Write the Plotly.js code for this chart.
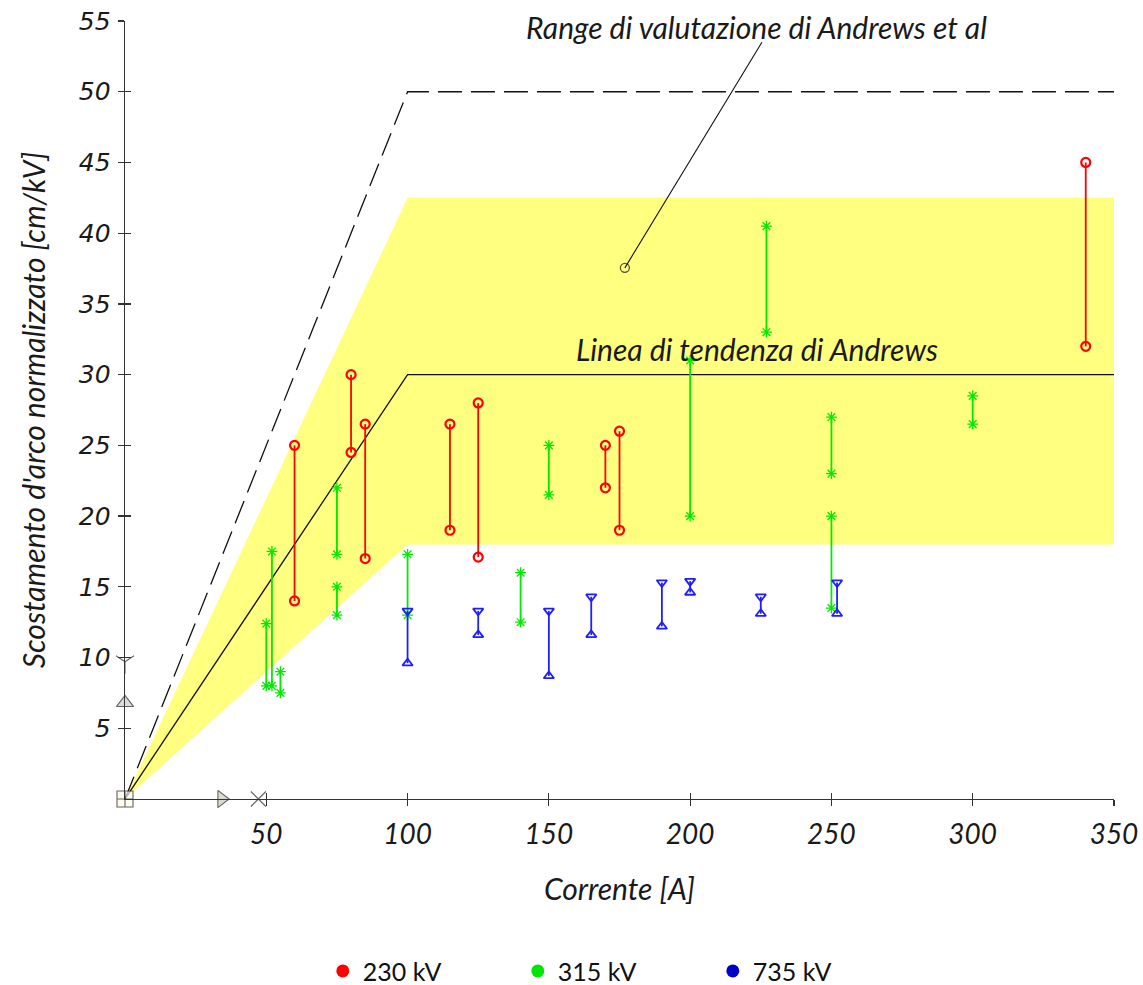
<!DOCTYPE html>
<html>
<head>
<meta charset="utf-8">
<script src="https://cdn.plot.ly/plotly-3.0.1.min.js"></script>
<style>
html,body{margin:0;padding:0;background:#fff;}
#chart{width:1143px;height:985px;}
</style>
</head>
<body>
<div id="chart"></div>
<script>
// ---- data ----
const red230X  = [60, 80, 85, 115, 125, 170, 175, 340];
const red230Lo = [14, 24.5, 17, 19, 17.1, 22, 19, 32];
const red230Hi = [25, 30, 26.5, 26.5, 28, 25, 26, 45];

const green315X  = [50, 52, 55, 75, 75, 100, 140, 150, 200, 227, 250, 250, 300];
const green315Lo = [8, 8, 7.5, 17.3, 13, 13, 12.5, 21.5, 20, 33, 23, 13.5, 26.5];
const green315Hi = [12.4, 17.5, 9, 22, 15, 17.3, 16, 25, 31, 40.5, 27, 20, 28.5];

const blue735X  = [100, 125, 150, 165, 190, 200, 225, 252];
const blue735Lo = [9.6, 11.6, 8.7, 11.6, 12.2, 14.6, 13.1, 13.1];
const blue735Hi = [13.3, 13.3, 13.3, 14.3, 15.3, 15.4, 14.3, 15.3];

// Andrews evaluation band (yellow) and curves
const bandX = [0, 100, 350, 350, 100, 0];
const bandY = [0, 42.5, 42.5, 18, 18, 0];
const upperX = [0, 100, 350];
const upperY = [0, 50, 50];
const trendX = [0, 100, 350];
const trendY = [0, 30, 30];

// leader line of the "Range" label
const leaderX = [176.9, 225.4];
const leaderY = [37.55, 53.5];

// tick labels
const xTickVals = [50, 100, 150, 200, 250, 300, 350];
const xTickText = ['50', '100', '150', '200', '250', '300', '350'];
const yTickVals = [5, 10, 15, 20, 25, 30, 35, 40, 45, 50, 55];
const yTickText = ['5', '10', '15', '20', '25', '30', '35', '40', '45', '50', '55'];

// axis decoration glyphs
const decoX = [0, 34.2, 47.2, 0, 0];
const decoY = [0, 0, 0, 6.8, 9.7];

const seriesNames = ['230 kV', '315 kV', '735 kV'];
const legendColors = ['rgb(255,0,0)', 'rgb(0,230,0)', 'rgb(0,0,200)'];

// ---- helpers ----
function segs(xs, lo, hi) {
  const X = [], Y = [];
  for (let i = 0; i < xs.length; i++) {
    X.push(xs[i], xs[i], null);
    Y.push(lo[i], hi[i], null);
  }
  return {X, Y};
}
function symbols(n, lowSym, highSym) {
  const s = [];
  for (let i = 0; i < n; i++) s.push(lowSym, highSym, lowSym);
  return s;
}

const italicLato = (size) => ({family: 'Lato, "Open Sans", sans-serif', style: 'italic', size: size, color: '#1a1a1a'});

const r = segs(red230X, red230Lo, red230Hi);
const g = segs(green315X, green315Lo, green315Hi);
const b = segs(blue735X, blue735Lo, blue735Hi);

const traces = [
  {x: bandX, y: bandY, type: 'scatter', mode: 'lines', fill: 'toself',
   fillcolor: 'rgb(255,255,128)', line: {width: 0, color: 'rgba(0,0,0,0)'},
   showlegend: false, hoverinfo: 'skip'},
  {x: upperX, y: upperY, type: 'scatter', mode: 'lines',
   line: {color: '#111', width: 1.3, dash: '24px,9px'}, showlegend: false},
  {x: trendX, y: trendY, type: 'scatter', mode: 'lines',
   line: {color: '#111', width: 1.3}, showlegend: false},
  {x: leaderX, y: leaderY, type: 'scatter', mode: 'lines+markers',
   line: {color: '#111', width: 1.1},
   marker: {symbol: ['circle-open', 'circle'], size: [9, 0.1], color: '#111', line: {width: 1.3, color: '#111'}},
   showlegend: false},
  {x: r.X, y: r.Y, type: 'scatter', mode: 'lines+markers',
   line: {color: 'rgb(255,0,0)', width: 1.8},
   marker: {symbol: 'circle-open', size: 9, color: 'rgb(255,0,0)', line: {width: 2.2, color: 'rgb(255,0,0)'}},
   showlegend: false},
  {x: g.X, y: g.Y, type: 'scatter', mode: 'lines+markers',
   line: {color: 'rgb(0,235,0)', width: 1.8},
   marker: {symbol: 'asterisk-open', size: 9, color: 'rgb(0,235,0)', line: {width: 1.3, color: 'rgb(0,235,0)'}},
   showlegend: false},
  {x: b.X, y: b.Y, type: 'scatter', mode: 'lines+markers',
   line: {color: 'rgb(30,30,255)', width: 1.8},
   marker: {symbol: symbols(blue735X.length, 'triangle-up-open', 'triangle-down-open'), size: 9,
            color: 'rgb(30,30,255)', line: {width: 1.8, color: 'rgb(30,30,255)'}},
   showlegend: false},
  {x: decoX, y: decoY, type: 'scatter', mode: 'markers', cliponaxis: false,
   marker: {symbol: ['square-cross', 'triangle-right', 'x-thin-open', 'triangle-up', 'y-down-open'],
            size: [16, 15, 15, 15, 15],
            color: ['rgb(255,252,235)', 'rgb(205,205,195)', '#222', 'rgb(205,205,195)', '#222'],
            line: {width: 1.1, color: '#222'}},
   showlegend: false, hoverinfo: 'skip'},
  // invisible trace to create overlay axes for crossing ticks
  {x: [null], y: [null], xaxis: 'x2', yaxis: 'y2', type: 'scatter', mode: 'markers', showlegend: false}
];

// legend entries
for (let i = 0; i < seriesNames.length; i++) {
  traces.push({x: [null], y: [null], type: 'scatter', mode: 'markers', name: seriesNames[i],
    marker: {symbol: 'circle', size: 13, color: legendColors[i]}, showlegend: true});
}

const layout = {
  width: 1143, height: 985,
  margin: {l: 125, r: 29, t: 21, b: 186, autoexpand: false},
  paper_bgcolor: '#fff', plot_bgcolor: '#fff',
  showlegend: true,
  xaxis: {
    range: [0, 350], showgrid: false, zeroline: false,
    showline: true, linecolor: '#333', linewidth: 1.4,
    ticks: 'outside', ticklen: 6, tickwidth: 1.2, tickcolor: '#333',
    tickvals: xTickVals, ticktext: xTickText,
    tickfont: italicLato(28), ticklabelstandoff: 4,
    title: {text: 'Corrente [A]', font: italicLato(30), standoff: 30},
    fixedrange: true
  },
  xaxis2: {
    range: [0, 350], overlaying: 'x', anchor: 'y', showgrid: false, zeroline: false,
    showline: false, ticks: 'inside', ticklen: 6, tickwidth: 1.2, tickcolor: '#333',
    tickvals: xTickVals, showticklabels: false, fixedrange: true
  },
  yaxis: {
    range: [0, 55], showgrid: false, zeroline: false,
    showline: true, linecolor: '#333', linewidth: 1.4,
    ticks: 'outside', ticklen: 6, tickwidth: 1.2, tickcolor: '#333',
    tickvals: yTickVals, ticktext: yTickText,
    tickfont: {family: '"DejaVu Sans", Verdana, sans-serif', style: 'italic', size: 25, color: '#1a1a1a'},
    ticklabelstandoff: 2,
    title: {text: "Scostamento d'arco normalizzato [cm/kV]", font: italicLato(30), standoff: 24},
    fixedrange: true
  },
  yaxis2: {
    range: [0, 55], overlaying: 'y', anchor: 'x', showgrid: false, zeroline: false,
    showline: false, ticks: 'inside', ticklen: 6, tickwidth: 1.2, tickcolor: '#333',
    tickvals: yTickVals, showticklabels: false, fixedrange: true
  },
  legend: {
    orientation: 'h', xref: 'paper', yref: 'container',
    x: 0.2, xanchor: 'left', y: 0.014, yanchor: 'middle',
    font: {family: 'Lato, "Open Sans", sans-serif', size: 25, color: '#111'},
    entrywidth: 150, bgcolor: 'rgba(0,0,0,0)'
  },
  annotations: [
    {x: 223.6, y: 54.6, xref: 'x', yref: 'y', text: 'Range di valutazione di Andrews et al',
     showarrow: false, font: italicLato(30), xanchor: 'center', yanchor: 'middle'},
    {x: 223.6, y: 31.8, xref: 'x', yref: 'y', text: 'Linea di tendenza di Andrews',
     showarrow: false, font: italicLato(30), xanchor: 'center', yanchor: 'middle'}
  ]
};

Plotly.newPlot('chart', traces, layout, {displayModeBar: false, staticPlot: true});
</script>
</body>
</html>
